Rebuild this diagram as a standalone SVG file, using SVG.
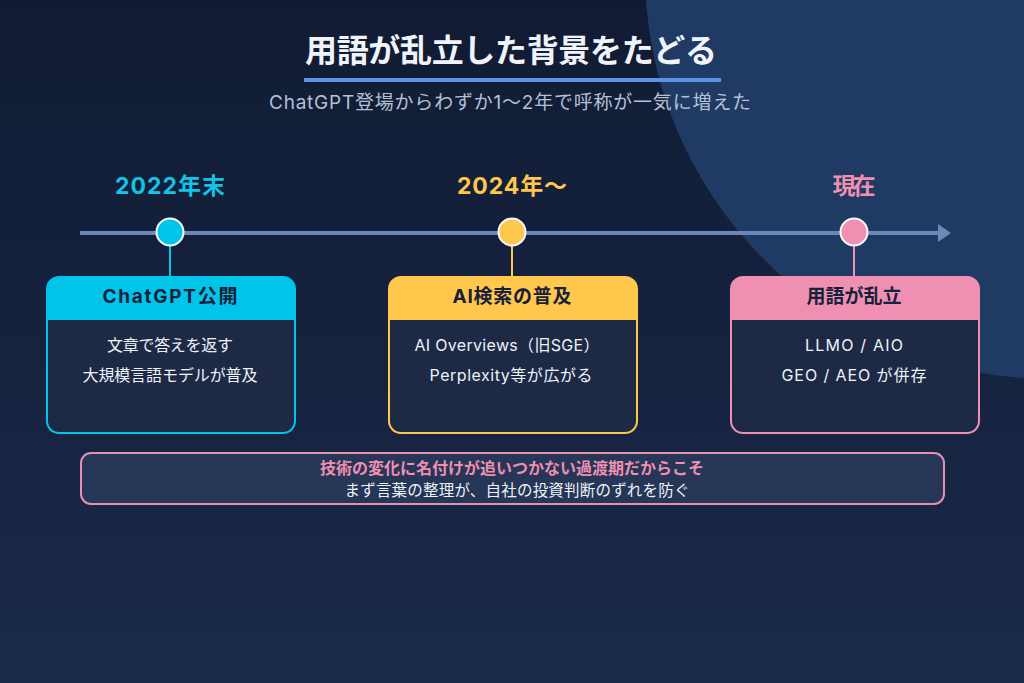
<svg xmlns="http://www.w3.org/2000/svg" width="1024" height="683" viewBox="0 0 1024 683">
<defs>
<linearGradient id="bg" x1="0" y1="0" x2="0" y2="1">
<stop offset="0" stop-color="#111b33"/>
<stop offset="1" stop-color="#1a2a4a"/>
</linearGradient>
<marker id="arrow" markerWidth="14" markerHeight="18" refX="0" refY="9" orient="auto" markerUnits="userSpaceOnUse">
<path d="M0,0 L13,9 L0,18 z" fill="#6b88b8"/>
</marker>
</defs>
<style>
text{font-family:Inter,"Noto Sans CJK JP","Noto Sans",sans-serif;text-anchor:middle}
.title{font-size:32px;font-weight:700;fill:#f0f4fa}
.sub{font-size:19px;fill:#b4c0d6}
.year{font-size:23px;font-weight:700}
.head{font-size:19px;font-weight:700;fill:#17203a}
.body{font-size:16px;fill:#eef2f8}
.body-bg{fill:#1d2945}
</style>
<rect width="1024" height="683" fill="url(#bg)"/>
<circle cx="1052" cy="-28" r="407" fill="#1f3a63"/>
<g id="title">
<text class="title" x="511" y="62" textLength="412" lengthAdjust="spacing">用語が乱立した背景をたどる</text>
<rect x="304" y="78" width="417" height="4" fill="#5b93e8"/>
<text class="sub" x="510" y="109" textLength="482" lengthAdjust="spacing">ChatGPT登場からわずか1〜2年で呼称が一気に増えた</text>
</g>
<g id="connectors">
<line x1="80" y1="233" x2="938" y2="233" stroke="#6b88b8" stroke-width="4" marker-end="url(#arrow)"/>
<line x1="170" y1="246" x2="170" y2="277" stroke="#00c4e8" stroke-width="2"/>
<line x1="512" y1="246" x2="512" y2="277" stroke="#ffc84d" stroke-width="2"/>
<line x1="854" y1="246" x2="854" y2="277" stroke="#ef90b2" stroke-width="2"/>
</g>
<g id="node-2022">
<text class="year" x="170" y="194" fill="#12c3e6" textLength="110" lengthAdjust="spacing">2022年末</text>
<circle cx="170" cy="232" r="13.5" fill="#00c4e8" stroke="#f4f7fb" stroke-width="2"/>
<rect x="47" y="277" width="248" height="156" rx="12" class="body-bg" stroke="#00c4e8" stroke-width="2"/>
<path d="M47,320 V289 a12,12 0 0 1 12,-12 H283 a12,12 0 0 1 12,12 V320 z" fill="#00c4e8"/>
<text class="head" x="170" y="303" textLength="135" lengthAdjust="spacing">ChatGPT公開</text>
<text class="body" x="170" y="351" textLength="126" lengthAdjust="spacing">文章で答えを返す</text>
<text class="body" x="170" y="381" textLength="175" lengthAdjust="spacing">大規模言語モデルが普及</text>
</g>
<g id="node-2024">
<text class="year" x="512" y="194" fill="#ffc84d" textLength="110" lengthAdjust="spacing">2024年〜</text>
<circle cx="512" cy="232" r="13.5" fill="#ffc84d" stroke="#f4f7fb" stroke-width="2"/>
<rect x="389" y="277" width="248" height="156" rx="12" class="body-bg" stroke="#ffc84d" stroke-width="2"/>
<path d="M389,320 V289 a12,12 0 0 1 12,-12 H625 a12,12 0 0 1 12,12 V320 z" fill="#ffc84d"/>
<text class="head" x="512" y="303" textLength="119" lengthAdjust="spacing">AI検索の普及</text>
<text class="body" x="507" y="351" textLength="185" lengthAdjust="spacing">AI Overviews（旧SGE）</text>
<text class="body" x="511" y="381" textLength="163" lengthAdjust="spacing">Perplexity等が広がる</text>
</g>
<g id="node-now">
<text class="year" x="854" y="194" fill="#ef90b2" textLength="43" lengthAdjust="spacing">現在</text>
<circle cx="854" cy="232" r="13.5" fill="#ef90b2" stroke="#f4f7fb" stroke-width="2"/>
<rect x="731" y="277" width="248" height="156" rx="12" class="body-bg" stroke="#ef90b2" stroke-width="2"/>
<path d="M731,320 V289 a12,12 0 0 1 12,-12 H967 a12,12 0 0 1 12,12 V320 z" fill="#ef90b2"/>
<text class="head" x="854" y="303" textLength="95" lengthAdjust="spacing">用語が乱立</text>
<text class="body" x="854" y="351" textLength="98" lengthAdjust="spacing">LLMO / AIO</text>
<text class="body" x="854" y="381" textLength="145" lengthAdjust="spacing">GEO / AEO が併存</text>
</g>
<g id="note">
<rect x="81" y="453" width="863" height="51" rx="10" fill="#253656" stroke="#e590b2" stroke-width="2"/>
<text x="512" y="474" font-size="16" font-weight="700" fill="#ef90b2" textLength="384" lengthAdjust="spacing">技術の変化に名付けが追いつかない過渡期だからこそ</text>
<text x="517" y="496" font-size="15.5" fill="#eef2f8" textLength="345" lengthAdjust="spacing">まず言葉の整理が、自社の投資判断のずれを防ぐ</text>
</g>
</svg>
